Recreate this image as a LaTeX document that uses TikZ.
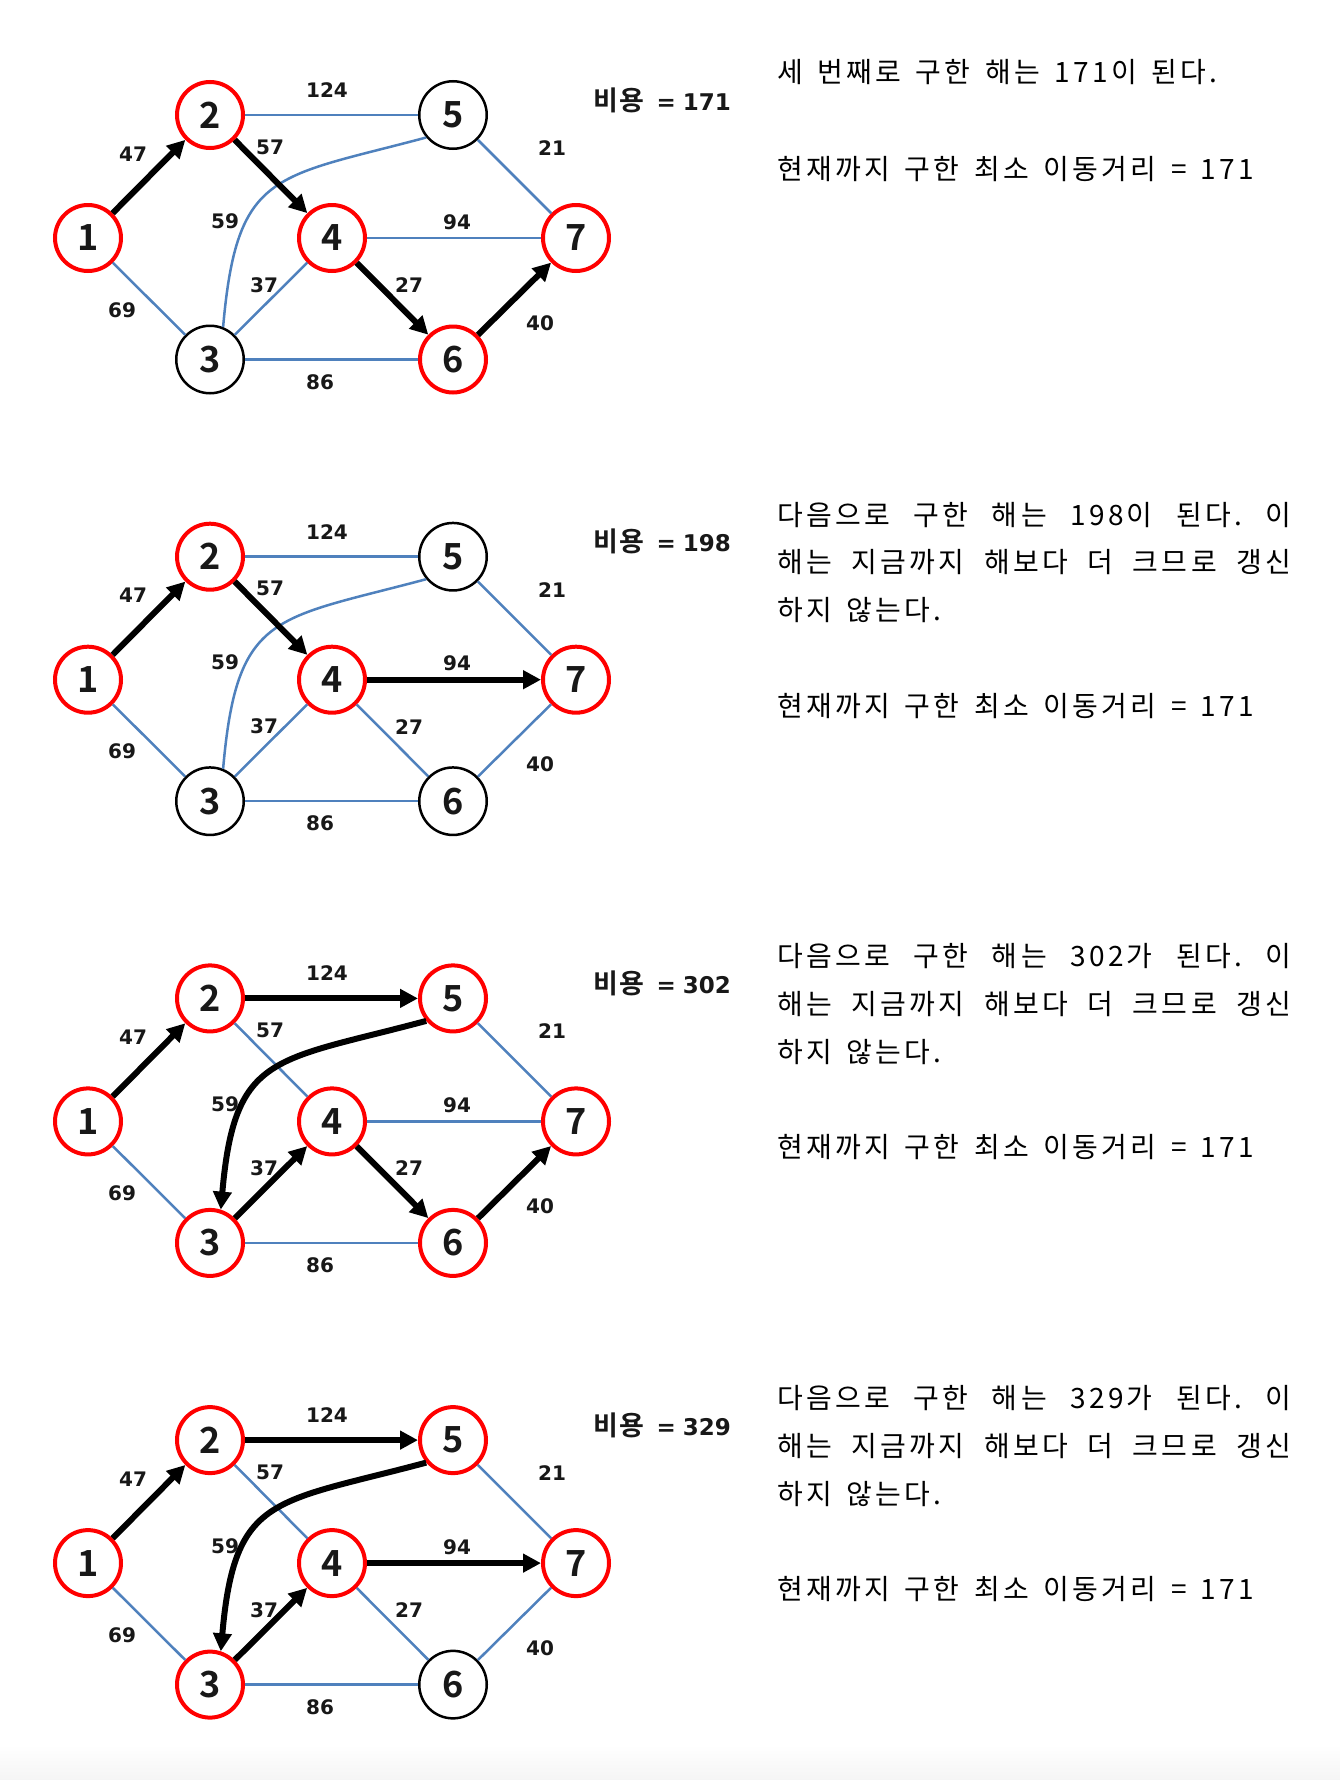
\documentclass[tikz,border=0pt]{standalone}
\usepackage{fontspec}
\usetikzlibrary{arrows.meta}
\newfontfamily\krfont[LetterSpace=12,WordSpace=1.5]{Noto Sans CJK KR}
\newfontfamily\krbold[LetterSpace=6]{Noto Sans CJK KR Bold}
\newfontfamily\dvfont{DejaVu Sans}
\definecolor{eblue}{RGB}{79,129,189}
\definecolor{ink}{RGB}{24,24,24}
\newcommand\jline[1]{\makebox[514pt][s]{#1}}
\frenchspacing
\tikzset{
 gnode/.style={circle,inner sep=0pt,text=ink,font=\krbold\fontsize{36}{36}\selectfont},
 vis/.style={gnode,draw=red,line width=4pt,minimum size=66pt},
 unv/.style={gnode,draw=black,line width=2.5pt,minimum size=67.5pt},
 ln/.style={draw=eblue,line width=2.5pt},
 arr/.style={draw=black,line width=6pt,-{Triangle[length=18pt,width=18pt]}},
 wl/.style={font=\dvfont\bfseries\fontsize{20}{20}\selectfont,text=ink,inner sep=0pt},
 cost/.style={inner sep=0pt,text=ink},
 para/.style={anchor=base west,inner sep=0pt,text=black,font=\krfont\fontsize{28}{34}\selectfont},
 curv/.style={out=85,in=195,looseness=1.45},
 rcurv/.style={out=195,in=85,looseness=1.45},
}
\begin{document}
\begin{tikzpicture}[x=1pt,y=-1pt]
\path[fill=white,use as bounding box] (0,0) rectangle (1340,1780);
\shade[top color=white,bottom color={rgb,255:red,245;green,245;blue,245}] (0,1745) rectangle (1340,1780);

\newcommand\edgelabels[2]{%
 \node[wl] (#1l124) at (327,90) {124};
 \node[wl] (#1l47) at (133,154) {47};
 \node[wl] (#1l57) at (270,147) {57};
 \node[wl] (#1l59) at (225,221) {59};
 \node[wl] (#1l37) at (264,285) {37};
 \node[wl] (#1l69) at (122,310) {69};
 \node[wl] (#1l86) at (320,382) {86};
 \node[wl] (#1l21) at (552,148) {21};
 \node[wl] (#1l94) at (457,222) {94};
 \node[wl] (#1l27) at (409,285) {27};
 \node[wl] (#1l40) at (540,323) {40};
 \node[cost,anchor=west] (#1cost) at (593,100) {{\krbold\fontsize{27}{27}\selectfont 비용}\hspace{12pt}{\dvfont\bfseries\fontsize{23}{23}\selectfont =\hspace{7pt}#2}};
}

% ================= Panel 1 =================
\begin{scope}
\node[vis] (a1) at (88,238) {1};
\node[vis] (a2) at (210,115) {2};
\node[unv] (a3) at (210,359.5) {3};
\node[vis] (a4) at (332,238) {4};
\node[unv] (a5) at (453,115) {5};
\node[vis] (a6) at (453,359.5) {6};
\node[vis] (a7) at (576,238) {7};
\draw[ln] (a1) -- (a3);
\draw[ln] (a2) -- (a5);
\draw[ln] (a3) -- (a4);
\draw[ln] (a3) -- (a6);
\draw[ln] (a4) -- (a7);
\draw[ln] (a5) -- (a7);
\draw[ln] (a3.68) to[curv] (a5.220);
\draw[arr] (a1) -- (a2);
\draw[arr] (a2) -- (a4);
\draw[arr] (a4) -- (a6);
\draw[arr] (a6) -- (a7);
\edgelabels{a}{171}
\node[para] (at1) at (777,82.5) {세 번째로 구한 해는 171이 된다.};
\node[para] (at2) at (777,179) {현재까지 구한 최소 이동거리 = 171};
\end{scope}

% ================= Panel 2 =================
\begin{scope}[shift={(0,441.7)}]
\node[vis] (b1) at (88,238) {1};
\node[vis] (b2) at (210,115) {2};
\node[unv] (b3) at (210,359.5) {3};
\node[vis] (b4) at (332,238) {4};
\node[unv] (b5) at (453,115) {5};
\node[unv] (b6) at (453,359.5) {6};
\node[vis] (b7) at (576,238) {7};
\draw[ln] (b1) -- (b3);
\draw[ln] (b2) -- (b5);
\draw[ln] (b3) -- (b4);
\draw[ln] (b3) -- (b6);
\draw[ln] (b4) -- (b6);
\draw[ln] (b5) -- (b7);
\draw[ln] (b6) -- (b7);
\draw[ln] (b3.68) to[curv] (b5.220);
\draw[arr] (b1) -- (b2);
\draw[arr] (b2) -- (b4);
\draw[arr] (b4) -- (b7);
\edgelabels{b}{198}
\node[para] (bt1) at (777,83.5) {\jline{다음으로 구한 해는 198이 된다. 이}};
\node[para] (bt2) at (777,131) {\jline{해는 지금까지 해보다 더 크므로 갱신}};
\node[para] (bt3) at (777,179) {하지 않는다.};
\node[para] (bt4) at (777,274.5) {현재까지 구한 최소 이동거리 = 171};
\end{scope}

% ================= Panel 3 =================
\begin{scope}[shift={(0,883.4)}]
\node[vis] (c1) at (88,238) {1};
\node[vis] (c2) at (210,115) {2};
\node[vis] (c3) at (210,359.5) {3};
\node[vis] (c4) at (332,238) {4};
\node[vis] (c5) at (453,115) {5};
\node[vis] (c6) at (453,359.5) {6};
\node[vis] (c7) at (576,238) {7};
\draw[ln] (c1) -- (c3);
\draw[ln] (c2) -- (c4);
\draw[ln] (c3) -- (c6);
\draw[ln] (c4) -- (c7);
\draw[ln] (c5) -- (c7);
\draw[arr] (c1) -- (c2);
\draw[arr] (c2) -- (c5);
\draw[arr] (c5.220) to[rcurv] (c3.72);
\draw[arr] (c3) -- (c4);
\draw[arr] (c4) -- (c6);
\draw[arr] (c6) -- (c7);
\edgelabels{c}{302}
\node[para] (ct1) at (777,83.5) {\jline{다음으로 구한 해는 302가 된다. 이}};
\node[para] (ct2) at (777,131) {\jline{해는 지금까지 해보다 더 크므로 갱신}};
\node[para] (ct3) at (777,179) {하지 않는다.};
\node[para] (ct4) at (777,274.5) {현재까지 구한 최소 이동거리 = 171};
\end{scope}

% ================= Panel 4 =================
\begin{scope}[shift={(0,1325.1)}]
\node[vis] (d1) at (88,238) {1};
\node[vis] (d2) at (210,115) {2};
\node[vis] (d3) at (210,359.5) {3};
\node[vis] (d4) at (332,238) {4};
\node[vis] (d5) at (453,115) {5};
\node[unv] (d6) at (453,359.5) {6};
\node[vis] (d7) at (576,238) {7};
\draw[ln] (d1) -- (d3);
\draw[ln] (d2) -- (d4);
\draw[ln] (d3) -- (d6);
\draw[ln] (d4) -- (d6);
\draw[ln] (d5) -- (d7);
\draw[ln] (d6) -- (d7);
\draw[arr] (d1) -- (d2);
\draw[arr] (d2) -- (d5);
\draw[arr] (d5.220) to[rcurv] (d3.72);
\draw[arr] (d3) -- (d4);
\draw[arr] (d4) -- (d7);
\edgelabels{d}{329}
\node[para] (dt1) at (777,83.5) {\jline{다음으로 구한 해는 329가 된다. 이}};
\node[para] (dt2) at (777,131) {\jline{해는 지금까지 해보다 더 크므로 갱신}};
\node[para] (dt3) at (777,179) {하지 않는다.};
\node[para] (dt4) at (777,274.5) {현재까지 구한 최소 이동거리 = 171};
\end{scope}
\end{tikzpicture}
\end{document}
